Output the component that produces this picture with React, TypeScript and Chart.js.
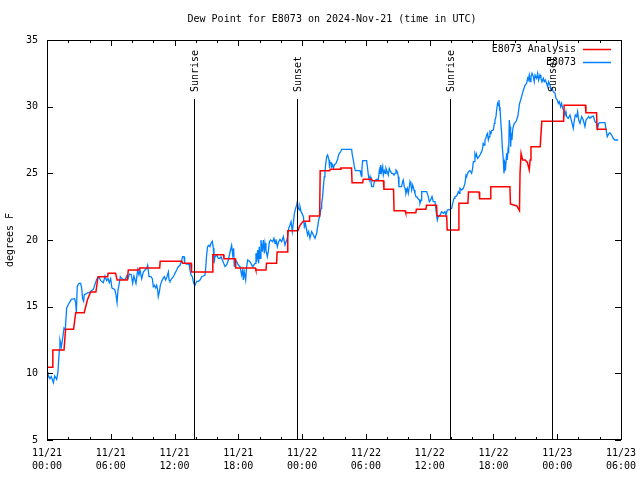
import React, { useEffect, useRef } from "react";
import { Chart, registerables } from "chart.js";

Chart.register(...registerables);

const TITLE = "Dew Point for E8073 on 2024-Nov-21 (time in UTC)";
const Y_LABEL = "degrees F";
const X_TICK_VALUES = [0, 6, 12, 18, 24, 30, 36, 42, 48, 54];
const X_TICK_LABELS: string[][] = [
  ["11/21", "00:00"], ["11/21", "06:00"], ["11/21", "12:00"], ["11/21", "18:00"],
  ["11/22", "00:00"], ["11/22", "06:00"], ["11/22", "12:00"], ["11/22", "18:00"],
  ["11/23", "00:00"], ["11/23", "06:00"],
];
const X_MIN = 0;
const X_MAX = 54;
const X_STEP = 6;
const X_MINOR_STEP = 2;
const Y_MIN = 5;
const Y_MAX = 35;
const Y_STEP = 5;

const SUN_HOURS = [13.83, 23.52, 37.91, 47.5];
const SUN_LABELS = ["Sunrise", "Sunset", "Sunrise", "Sunset"];

const SERIES_NAMES = ["E8073 Analysis", "E8073"];

// Analysis (red) — hours since 11/21 00:00 UTC
const ANALYSIS_HOURS = [
  0, 0.54, 0.55, 1.6, 1.75, 2.5, 2.7, 3.5, 3.8, 4.1, 4.6, 4.8, 5.7, 5.75, 6.45, 6.6, 7.55, 7.65, 8.65, 8.7,
  10.6, 10.65, 12.7, 12.75, 13.55, 13.6, 15.55, 15.6, 16.6, 16.65, 17.7, 17.75, 19.6, 19.65, 20.6, 20.65,
  21.6, 21.65, 22.6, 22.65, 23.6, 23.8, 24.1, 24.65, 24.7, 25.65, 25.7, 26.6, 26.65, 27.6, 27.65, 28.65,
  28.7, 29.7, 29.75, 30.55, 30.6, 31.65, 31.7, 32.6, 32.65, 33.7, 33.75, 34.7, 34.75, 35.65, 35.7, 36.65,
  36.7, 37.6, 37.65, 38.7, 38.75, 39.6, 39.65, 40.65, 40.7, 41.7, 41.75, 43.55, 43.6, 44.2, 44.45, 44.5,
  44.6, 44.75, 45.0, 45.2, 45.37, 45.45, 45.53, 46.4, 46.55, 48.6, 48.65, 50.65, 50.7, 51.7, 51.75, 52.65,
];
const ANALYSIS_VALUES = [
  10.45, 10.45, 11.75, 11.75, 13.3, 13.3, 14.55, 14.55, 15.5, 16.1, 16.1, 17.25, 17.25, 17.5, 17.5, 17.0, 17.0, 17.75, 17.75, 17.9,
  17.9, 18.4, 18.4, 18.25, 18.25, 17.6, 17.6, 18.9, 18.9, 18.6, 18.6, 17.9, 17.9, 17.75, 17.75, 18.25,
  18.25, 19.1, 19.1, 20.7, 20.7, 21.1, 21.4, 21.4, 21.8, 21.8, 25.2, 25.2, 25.3, 25.3, 25.4, 25.4,
  24.3, 24.3, 24.55, 24.55, 24.45, 24.45, 23.8, 23.8, 22.2, 22.2, 22.05, 22.05, 22.3, 22.3, 22.6, 22.6,
  21.8, 21.8, 20.75, 20.75, 22.75, 22.75, 23.6, 23.6, 23.1, 23.1, 24.0, 24.0, 22.7, 22.55, 22.2, 25.0,
  26.5, 26.0, 26.0, 25.8, 25.25, 26.0, 27.0, 27.0, 28.9, 28.9, 30.1, 30.1, 29.55, 29.55, 28.3, 28.3,
];

// Observed (blue)
const OBS_HOURS = [
  0.0, 0.09, 0.28, 0.41, 0.6, 0.72, 0.91, 1.03, 1.16, 1.22, 1.35, 1.47, 1.6, 1.72, 1.85, 2.07, 2.29, 2.6, 2.7, 2.76,
  2.85, 3.01, 3.17, 3.26, 3.35, 3.45, 3.51, 3.73, 4.04, 4.36, 4.55, 4.67, 4.89, 5.05, 5.3, 5.46, 5.61, 5.74, 5.86, 5.99,
  6.11, 6.37, 6.49, 6.59, 6.68, 6.8, 6.9, 7.12, 7.37, 7.5, 7.62, 7.75, 7.93, 8.06, 8.18, 8.37, 8.53, 8.65, 8.75, 8.91,
  9.06, 9.22, 9.38, 9.47, 9.6, 9.78, 9.91, 10.0, 10.1, 10.22, 10.32, 10.41, 10.47, 10.57, 10.66, 10.79, 10.91, 11.04, 11.16, 11.29,
  11.42, 11.48, 11.57, 11.73, 11.89, 12.04, 12.2, 12.35, 12.51, 12.67, 12.76, 12.89, 12.95, 13.14, 13.36, 13.45, 13.55, 13.67, 13.8, 13.92,
  14.08, 14.24, 14.39, 14.55, 14.71, 14.86, 14.93, 15.02, 15.11, 15.24, 15.33, 15.43, 15.55, 15.65, 15.71, 15.8, 15.96, 16.12, 16.27, 16.37,
  16.5, 16.62, 16.75, 16.9, 17.06, 17.22, 17.37, 17.47, 17.56, 17.62, 17.69, 17.84, 18.0, 18.16, 18.31, 18.41, 18.47, 18.56, 18.69, 18.78,
  18.88, 19.1, 19.35, 19.57, 19.66, 19.72, 19.82, 19.91, 19.97, 20.04, 20.13, 20.26, 20.35, 20.45, 20.51, 20.6, 20.73, 20.82, 20.92, 21.04,
  21.23, 21.35, 21.45, 21.54, 21.67, 21.79, 21.92, 22.08, 22.23, 22.39, 22.55, 22.64, 22.74, 22.86, 22.96, 23.08, 23.17, 23.27, 23.39, 23.49,
  23.55, 23.65, 23.74, 23.8, 23.9, 23.99, 24.12, 24.21, 24.3, 24.43, 24.52, 24.62, 24.74, 24.9, 25.06, 25.21, 25.37, 25.46, 25.56, 25.68,
  25.78, 25.84, 25.93, 26.0, 26.09, 26.15, 26.21, 26.31, 26.4, 26.53, 26.56, 26.62, 26.72, 26.78, 26.87, 26.94, 27.03, 27.19, 27.34, 27.41,
  27.5, 27.63, 27.72, 28.66, 28.72, 28.82, 28.91, 29.0, 29.45, 29.51, 29.6, 29.63, 29.7, 30.07, 30.14, 30.23, 30.32, 30.39, 30.48, 30.54,
  30.7, 30.79, 30.92, 31.08, 31.17, 31.27, 31.33, 31.39, 31.48, 31.58, 31.64, 31.73, 31.83, 31.89, 32.01, 32.11, 32.2, 32.33, 32.42, 32.52,
  32.64, 32.74, 32.83, 32.96, 33.05, 33.11, 33.36, 33.46, 33.52, 33.61, 33.68, 33.77, 33.9, 33.99, 34.09, 34.15, 34.24, 34.31, 34.4, 34.53,
  34.62, 34.71, 34.84, 34.94, 35.03, 35.09, 35.19, 35.25, 35.72, 35.87, 35.97, 36.09, 36.22, 36.34, 36.5, 36.59, 36.72, 36.81, 36.97, 37.13,
  37.28, 37.44, 37.53, 37.66, 37.91, 38.07, 38.16, 38.29, 38.38, 38.54, 38.7, 38.79, 38.85, 39.01, 39.17, 39.32, 39.42, 39.48, 39.64, 39.79,
  39.95, 40.04, 40.11, 40.2, 40.26, 40.36, 40.42, 40.51, 40.64, 40.73, 40.89, 40.98, 41.04, 41.14, 41.2, 41.29, 41.36, 41.45, 41.52, 41.61,
  41.67, 41.77, 41.83, 41.99, 42.08, 42.14, 42.24, 42.3, 42.39, 42.46, 42.52, 42.58, 42.61, 42.68, 42.77, 42.83, 42.93, 42.99, 43.02, 43.08,
  43.15, 43.24, 43.3, 43.37, 43.43, 43.49, 43.56, 43.62, 43.68, 43.74, 43.81, 43.87, 43.96, 44.12, 44.3, 44.45, 44.65, 44.8, 44.97, 45.12,
  45.22, 45.28, 45.37, 45.44, 45.53, 45.63, 45.75, 45.84, 45.91, 46.06, 46.16, 46.25, 46.38, 46.47, 46.57, 46.69, 46.78, 46.88, 47.0, 47.1,
  47.19, 47.32, 47.41, 47.51, 47.63, 47.79, 47.88, 48.01, 48.1, 48.2, 48.32, 48.41, 48.51, 48.63, 48.73, 48.82, 48.89, 49.04, 49.2, 49.36,
  49.51, 49.61, 49.7, 49.83, 49.92, 50.02, 50.14, 50.3, 50.45, 50.61, 50.71, 50.83, 50.96, 51.08, 51.24, 51.4, 51.55, 51.71, 51.8, 51.9,
  52.02, 52.49, 52.58, 52.71, 52.84, 52.96, 53.12, 53.27, 53.43, 53.74,
];
const OBS_VALUES = [
  10.1, 9.9, 9.6, 9.75, 9.3, 9.8, 9.55, 10.1, 11.75, 12.5, 12.0, 12.6, 13.4, 13.25, 14.9, 15.25, 15.55, 15.6, 15.25, 14.6,
  16.55, 16.75, 16.75, 16.4, 15.6, 15.4, 15.9, 16.0, 16.1, 16.3, 16.75, 17.05, 17.25, 16.95, 16.8, 17.3, 16.95, 17.1, 16.8, 17.1,
  16.4, 16.3, 15.9, 15.3, 16.25, 16.75, 17.25, 17.05, 17.05, 17.3, 17.1, 17.45, 17.4, 16.75, 17.3, 16.75, 17.75, 17.375, 17.75, 17.1,
  17.6, 17.75, 17.875, 18.1, 17.25, 17.25, 17.1, 16.5, 16.6, 16.4, 16.6, 16.25, 15.75, 16.1, 16.6, 16.9, 17.1, 17.25, 17.0, 17.25,
  17.6, 17.0, 16.9, 17.1, 17.25, 17.5, 17.75, 18.0, 18.1, 18.5, 18.75, 18.75, 18.25, 18.2, 18.2, 17.75, 17.375, 17.25, 16.75, 16.6,
  16.9, 16.9, 17.0, 17.25, 17.3, 17.375, 17.9, 18.9, 19.5, 19.6, 19.5, 19.75, 19.9, 19.375, 18.25, 18.75, 18.875, 18.625, 18.625, 18.75,
  18.5, 18.25, 18.0, 18.125, 18.5, 19.1, 19.6, 18.875, 19.375, 18.0, 18.5, 18.375, 18.125, 18.0, 17.375, 17.75, 17.0, 17.625, 17.0, 18.0,
  18.5, 18.375, 18.0, 18.25, 19.0, 18.375, 19.25, 18.25, 19.5, 18.625, 20.0, 19.125, 20.0, 19.0, 19.75, 19.25, 18.75, 19.125, 19.875, 20.0,
  19.875, 20.125, 19.75, 20.05, 19.5, 19.875, 20.05, 19.875, 20.25, 19.625, 20.0, 20.25, 20.875, 21.125, 21.375, 20.625, 21.25, 22.0, 22.375, 22.625,
  22.875, 22.375, 22.25, 22.5, 22.125, 22.0, 21.75, 21.0, 21.25, 20.75, 20.375, 20.625, 20.125, 20.625, 20.375, 20.125, 20.5, 21.0, 21.5, 21.875,
  22.375, 22.75, 23.25, 24.0, 24.75, 25.125, 25.625, 26.25, 26.375, 26.0, 25.375, 25.75, 25.8, 25.5, 25.625, 25.375, 25.625, 25.75, 26.05, 26.3,
  26.5, 26.625, 26.8, 26.8, 26.375, 26.0, 25.5, 25.2, 25.2, 25.0, 24.8, 25.375, 25.95, 25.95, 25.5, 24.875, 24.5, 24.75, 24.375, 24.0,
  24.0, 24.375, 24.5, 24.55, 24.5, 25.25, 25.0, 25.625, 25.125, 25.5, 24.875, 25.2, 25.0, 25.375, 25.125, 24.875, 25.375, 25.125, 25.0, 25.0,
  24.875, 25.0, 25.25, 25.125, 24.75, 24.0, 24.0, 24.375, 24.5, 24.0, 23.875, 23.5, 23.875, 23.5, 24.0, 24.375, 24.125, 23.75, 24.125, 23.75,
  23.5, 23.25, 23.2, 23.05, 23.0, 22.75, 23.0, 23.625, 23.625, 23.25, 22.875, 23.0, 23.25, 22.875, 22.875, 22.25, 21.5, 21.75, 21.875, 22.125,
  22.0, 22.125, 21.875, 22.25, 22.3, 22.375, 22.75, 23.125, 23.25, 23.3, 23.625, 23.5, 23.875, 23.75, 23.875, 24.25, 24.875, 24.8, 25.125, 25.2,
  25.0, 25.375, 25.875, 25.875, 26.5, 26.25, 26.375, 26.125, 26.25, 26.375, 26.625, 26.875, 27.25, 27.125, 27.5, 27.625, 27.875, 28.0, 27.5, 27.75,
  28.125, 28.0, 28.2, 28.25, 28.75, 29.0, 29.25, 29.75, 30.25, 30.1, 30.5, 29.75, 30.0, 29.0, 28.0, 27.0, 26.0, 25.0, 25.25, 25.75,
  25.5, 26.5, 26.0, 26.75, 26.5, 29.0, 28.5, 27.0, 28.0, 27.5, 28.25, 28.5, 28.75, 28.875, 29.3, 30.2, 30.75, 31.2, 31.6, 31.75,
  32.125, 32.0, 32.375, 31.875, 32.25, 32.5, 32.25, 31.875, 32.375, 32.125, 32.5, 32.0, 32.375, 32.125, 31.875, 32.125, 31.875, 32.0, 31.75, 31.5,
  31.875, 31.625, 31.25, 31.375, 31.125, 31.0, 30.625, 30.5, 30.25, 30.375, 30.0, 30.25, 29.875, 29.75, 29.375, 29.625, 29.25, 29.125, 29.375, 28.875,
  28.375, 29.0, 29.375, 29.25, 29.625, 29.0, 28.75, 29.25, 29.0, 28.5, 29.0, 29.125, 29.25, 29.125, 29.25, 29.3, 28.875, 28.75, 28.375, 28.75,
  28.8, 28.8, 28.375, 27.75, 27.95, 28.05, 27.875, 27.625, 27.5, 27.5,
];

const FONT_FAMILY = '"DejaVu Sans Mono", "Liberation Mono", monospace';
const RED = "#ff0000";
const BLUE = "#0080ff";

const decorPlugin = {
  id: "gnuplotDecor",
  afterDatasetsDraw(chart: any) {
    const { ctx, chartArea: a, scales } = chart;
    const x = scales.x;
    const y = scales.y;
    ctx.save();
    ctx.font = `10px ${FONT_FAMILY}`;
    ctx.fillStyle = "#000";
    ctx.strokeStyle = "#000";
    ctx.lineWidth = 1;

    // sunrise / sunset lines
    SUN_HOURS.forEach((h, i) => {
      const px = Math.round(x.getPixelForValue(h)) + 0.5;
      ctx.beginPath();
      ctx.moveTo(px, a.top + 59);
      ctx.lineTo(px, a.bottom);
      ctx.stroke();
      ctx.save();
      ctx.translate(px + 1, a.top + 52);
      ctx.rotate(-Math.PI / 2);
      ctx.textAlign = "left";
      ctx.textBaseline = "middle";
      ctx.fillText(SUN_LABELS[i], 0, 0);
      ctx.restore();
    });

    // border
    ctx.strokeRect(a.left + 0.5, a.top + 0.5, a.right - a.left, a.bottom - a.top - 1);

    // y ticks (inward, both sides)
    for (let v = Y_MIN; v <= Y_MAX; v += Y_STEP) {
      const py = Math.round(y.getPixelForValue(v)) + 0.5;
      ctx.beginPath();
      ctx.moveTo(a.left, py);
      ctx.lineTo(a.left + 6, py);
      ctx.moveTo(a.right, py);
      ctx.lineTo(a.right - 6, py);
      ctx.stroke();
    }
    // x ticks (major + minor)
    for (let h = X_MIN; h <= X_MAX; h += X_MINOR_STEP) {
      const len = h % X_STEP === 0 ? 6 : 3;
      const px = Math.round(x.getPixelForValue(h)) + 0.5;
      ctx.beginPath();
      ctx.moveTo(px, a.bottom);
      ctx.lineTo(px, a.bottom - len);
      ctx.moveTo(px, a.top);
      ctx.lineTo(px, a.top + len);
      ctx.stroke();
    }

    // x tick labels (two lines)
    ctx.textAlign = "center";
    ctx.textBaseline = "middle";
    X_TICK_VALUES.forEach((v, i) => {
      const px = x.getPixelForValue(v);
      ctx.fillText(X_TICK_LABELS[i][0], px, a.bottom + 13);
      ctx.fillText(X_TICK_LABELS[i][1], px, a.bottom + 26);
    });

    // title
    ctx.fillText(TITLE, (a.left + a.right) / 2 - 2, 19);

    // y label
    ctx.save();
    ctx.translate(10, (a.top + a.bottom) / 2);
    ctx.rotate(-Math.PI / 2);
    ctx.textAlign = "center";
    ctx.textBaseline = "middle";
    ctx.fillText(Y_LABEL, 0, 0);
    ctx.restore();

    // legend
    const colors = [RED, BLUE];
    SERIES_NAMES.forEach((name, i) => {
      const ly = a.top + 9 + i * 13;
      ctx.fillStyle = "#000";
      ctx.textAlign = "right";
      ctx.textBaseline = "middle";
      ctx.fillText(name, a.right - 45, ly);
      ctx.strokeStyle = colors[i];
      ctx.lineWidth = 1.5;
      ctx.beginPath();
      ctx.moveTo(a.right - 38, ly + 0.5);
      ctx.lineTo(a.right - 10, ly + 0.5);
      ctx.stroke();
    });
    ctx.restore();
  },
};

export default function App() {
  const canvasRef = useRef<HTMLCanvasElement | null>(null);

  useEffect(() => {
    if (!canvasRef.current) return;
    const analysis = ANALYSIS_HOURS.map((h, i) => ({ x: h, y: ANALYSIS_VALUES[i] }));
    const obs = OBS_HOURS.map((h, i) => ({ x: h, y: OBS_VALUES[i] }));
    const chart = new Chart(canvasRef.current, {
      type: "line",
      data: {
        datasets: [
          {
            label: SERIES_NAMES[0],
            data: analysis,
            borderColor: RED,
            borderWidth: 1.5,
            pointRadius: 0,
            tension: 0,
            fill: false,
          },
          {
            label: SERIES_NAMES[1],
            data: obs,
            borderColor: BLUE,
            borderWidth: 1.3,
            pointRadius: 0,
            tension: 0,
            fill: false,
          },
        ],
      },
      options: {
        responsive: false,
        animation: false,
        events: [],
        layout: { padding: { top: 40, right: 19, left: 0, bottom: 0 } },
        plugins: {
          legend: { display: false },
          title: { display: false },
          tooltip: { enabled: false },
        },
        scales: {
          x: {
            type: "linear",
            min: X_MIN,
            max: X_MAX,
            afterFit: (s: any) => { s.height = 40; },
            grid: { display: false, drawTicks: false },
            border: { display: false },
            ticks: { display: false, stepSize: X_STEP },
          },
          y: {
            type: "linear",
            min: Y_MIN,
            max: Y_MAX,
            afterFit: (s: any) => { s.width = 47; },
            grid: { display: false, drawTicks: false },
            border: { display: false },
            ticks: {
              stepSize: Y_STEP,
              padding: 9,
              color: "#000",
              font: { family: FONT_FAMILY, size: 10 },
            },
          },
        },
      },
      plugins: [decorPlugin],
    });
    return () => chart.destroy();
  }, []);

  return (
    <div style={{ position: "absolute", left: 0, top: 0, width: 640, height: 480, background: "#fff" }}>
      <canvas ref={canvasRef} width={640} height={480} style={{ width: 640, height: 480 }} />
    </div>
  );
}
